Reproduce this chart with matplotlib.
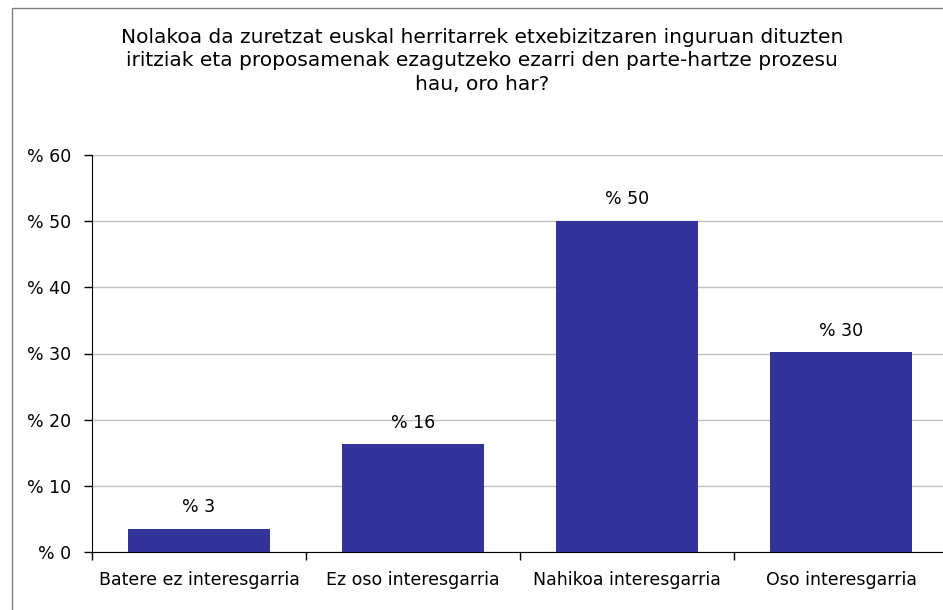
import matplotlib.pyplot as plt
from matplotlib.patches import Rectangle

categories = ["Batere ez interesgarria", "Ez oso interesgarria",
              "Nahikoa interesgarria", "Oso interesgarria"]
values = [3.5, 16.3, 50.1, 30.2]
value_labels = ["% 3", "% 16", "% 50", "% 30"]
yticks = [0, 10, 20, 30, 40, 50, 60]
ytick_labels = ["% 0", "% 10", "% 20", "% 30", "% 40", "% 50", "% 60"]

title = ("Nolakoa da zuretzat euskal herritarrek etxebizitzaren inguruan dituzten\n"
         "iritziak eta proposamenak ezagutzeko ezarri den parte-hartze prozesu\n"
         "hau, oro har?")

W, H = 943, 610
fig = plt.figure(figsize=(W / 100, H / 100), dpi=100)
fig.patch.set_facecolor("white")

# outer chart border
fig.patches.append(Rectangle((12 / W, -0.05), 1.1, 1 - 8 / H + 0.05,
                             transform=fig.transFigure, fill=False,
                             edgecolor="#808080", lw=1))

fig.text(482 / W, 1 - 61 / H, title, ha="center", va="center",
         fontsize=14.5, linespacing=1.27, color="black")

ax = fig.add_axes([92 / W, (H - 552) / H, (948 - 92) / W, (552 - 155) / H])
x = range(len(categories))
ax.bar(x, values, width=1 / 1.5, color="#333399", zorder=3)

for i, v in enumerate(values):
    ax.annotate(value_labels[i], (i, v), xytext=(0, 9), textcoords="offset points",
                ha="center", va="bottom", fontsize=12.5)

ax.set_xlim(-0.5, 3.5)
ax.set_ylim(0, 60)
ax.set_yticks(yticks)
ax.set_yticklabels(ytick_labels, fontsize=12.5)
ax.yaxis.grid(True, color="#c0c0c0", lw=1, zorder=0)
ax.tick_params(axis="y", direction="out", length=6, width=1, pad=9)

ax.set_xticks([-0.5, 0.5, 1.5, 2.5, 3.5])
ax.set_xticklabels([])
ax.tick_params(axis="x", direction="out", length=6, width=1)
ax.set_xticks(list(x), minor=True)
ax.set_xticklabels(categories, minor=True, fontsize=12.5)
ax.tick_params(axis="x", which="minor", length=0, pad=14)

for s in ["top", "right"]:
    ax.spines[s].set_visible(False)
ax.spines["left"].set_color("black")
ax.spines["bottom"].set_color("black")

fig.savefig("out.png", dpi=100, facecolor="white")
